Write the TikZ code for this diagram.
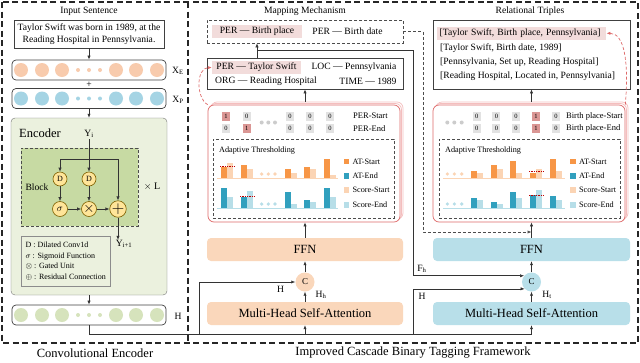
\documentclass[tikz,border=0pt]{standalone}
\usepackage{fontspec}
\setmainfont{Liberation Serif}
\usepackage{tikz}
\usetikzlibrary{arrows.meta, positioning, calc}
\definecolor{peachFill}{RGB}{248,203,173}
\definecolor{skyFill}{RGB}{165,212,228}
\definecolor{sageFill}{RGB}{214,227,188}
\definecolor{encFill}{RGB}{235,241,222}
\definecolor{blockFill}{RGB}{199,218,163}
\definecolor{gateFill}{RGB}{255,229,153}
\definecolor{gateDraw}{RGB}{127,96,0}
\definecolor{ffnPeach}{RGB}{250,215,187}
\definecolor{ffnBlue}{RGB}{184,223,233}
\definecolor{hiPink}{RGB}{242,220,219}
\definecolor{cellRed}{RGB}{218,150,148}
\definecolor{cellGray}{RGB}{226,226,226}
\definecolor{tagRed}{RGB}{222,105,105}
\definecolor{tagPink}{RGB}{244,190,190}
\definecolor{atStart}{RGB}{247,150,70}
\definecolor{scStart}{RGB}{251,212,180}
\definecolor{atEnd}{RGB}{49,160,190}
\definecolor{scEnd}{RGB}{183,222,232}
\newcommand{\barpair}[6]{%
    \fill[#5] (#1,#2) rectangle ++(6,-#3);
    \fill[#6] (#1+6,#2) rectangle ++(6,-#4);}
\tikzset{
    panel/.style={draw=black!85, line width=1.1pt, dash pattern=on 6pt off 3.5pt},
    subpanel/.style={
        rectangle,
        draw=black!70,
        line width=0.6pt,
        dash pattern=on 3pt off 2pt
    },
    plainbox/.style={rectangle, draw=black!75, line width=0.7pt, fill=white},
    embrow/.style={
        rectangle,
        draw=black!75,
        line width=0.7pt,
        rounded corners=4pt,
        fill=white,
        minimum width=154pt,
        minimum height=20pt
    },
    tok/.style={circle, inner sep=0pt, minimum size=14pt},
    dotnode/.style={circle, inner sep=0pt, minimum size=4pt},
    gate/.style={
        circle,
        draw=gateDraw,
        line width=0.6pt,
        fill=gateFill,
        inner sep=0pt,
        minimum size=14pt
    },
    layerbox/.style={
        rectangle,
        rounded corners=4pt,
        minimum width=196pt,
        minimum height=23pt,
        font=\fontsize{12.5}{14}\selectfont
    },
    cnode/.style={circle, inner sep=0pt, minimum size=19pt, font=\fontsize{9}{10}\selectfont},
    tagback/.style={
        rectangle,
        rounded corners=6pt,
        draw=tagPink,
        line width=0.7pt,
        fill=white,
        minimum width=192pt,
        minimum height=117pt
    },
    tagfront/.style={tagback, draw=tagRed},
    cell/.style={
        rectangle,
        fill=cellGray,
        inner sep=0pt,
        minimum width=8pt,
        minimum height=9pt,
        font=\fontsize{6.5}{7}\selectfont
    },
    hilite/.style={rectangle, fill=hiPink, inner sep=0pt, minimum height=12.5pt},
    legsq/.style={rectangle, inner sep=0pt, minimum size=5.5pt},
    leglab/.style={anchor=west, inner sep=0pt, font=\fontsize{8.2}{9}\selectfont},
    rowlab/.style={anchor=west, inner sep=0pt, font=\fontsize{8.5}{10}\selectfont},
    flowarrow/.style={-{Latex[length=4pt,width=3.2pt]}, draw=black!80, line width=0.6pt},
    linkline/.style={draw=black!80, line width=0.6pt},
    dashlink/.style={-{Latex[length=4pt,width=3.2pt]}, draw=black!70, line width=0.6pt, dash pattern=on 3pt off 2pt},
    redcurve/.style={-{Latex[length=4pt,width=3.2pt]}, draw=tagRed, line width=0.7pt, dash pattern=on 3pt off 2pt},
    thresh/.style={draw=red!75!black, line width=0.8pt, dash pattern=on 1pt off 0.7pt}
}

\begin{document}
\begin{tikzpicture}[x=1pt,y=-1pt,font=\fontsize{9.6}{11.5}\selectfont]
        \useasboundingbox (0,0) rectangle (640,362);
        \draw[panel] (2,2) rectangle (638,343);
        \draw[panel] (188,2) -- (188,343);

        % convolutional encoder
        \node (intitle) at (89,11) {Input Sentence};
        \node[plainbox, minimum width=150pt, minimum height=28pt, align=center, inner sep=0pt, font=\fontsize{9.6}{12.4}\selectfont] (sent) at (89,34) {Taylor Swift was born in 1989, at the\\Reading Hospital in Pennsylvania.};
        \node[embrow] (xe) at (89,70) {};
        \foreach \dx [count=\k] in {-68,-47,-27,27,47,68}
            \node[tok, fill=peachFill] (xe\k) at ($(xe)+(\dx,0)$) {};
        \foreach \dx [count=\k] in {-11,0,11}
            \node[dotnode, fill=peachFill] (xed\k) at ($(xe)+(\dx,0)$) {};
        \node (xelab) at (178,71) {X\textsubscript{E}};
        \node (plus) at (89,84.5) {+};
        \node[embrow] (xp) at (89,98.5) {};
        \foreach \dx [count=\k] in {-68,-47,-27,27,47,68}
            \node[tok, fill=skyFill] (xp\k) at ($(xp)+(\dx,0)$) {};
        \foreach \dx [count=\k] in {-11,0,11}
            \node[dotnode, fill=skyFill] (xpd\k) at ($(xp)+(\dx,0)$) {};
        \node (xplab) at (178,100) {X\textsubscript{P}};

        \node[rectangle, draw=black!55, fill=encFill, rounded corners=4pt, minimum width=156pt, minimum height=177pt] (enc) at (89,206.5) {};
        \node[anchor=west, inner sep=0pt, font=\fontsize{12.5}{14}\selectfont] (enclab) at (19,133) {Encoder};
        \node[subpanel, fill=blockFill, minimum width=117pt, minimum height=78pt] (blk) at (79.5,187) {};
        \node[inner sep=0pt] (blklab) at (37,187) {Block};
        \node[inner sep=0pt, font=\fontsize{10}{12}\selectfont] (reps) at (152,187) {$\times$ L};
        \node[inner sep=1pt] (yi) at (89,134) {Y\textsubscript{i}};
        \coordinate (ysplit) at (89,159);
        \node[gate, font=\fontsize{8}{9}\selectfont] (d1) at (60,179) {D};
        \node[gate, font=\fontsize{8}{9}\selectfont] (d2) at (89,179) {D};
        \node[gate, minimum size=15pt, font=\fontsize{10}{11}\selectfont] (sig) at (60,209) {$\sigma$};
        \node[gate, minimum size=15pt, font=\fontsize{15}{16}\selectfont] (gat) at (89,209) {$\times$};
        \node[gate, minimum size=16pt, font=\fontsize{16}{17}\selectfont] (res) at (118,209) {$+$};
        \draw[linkline] (yi) -- (ysplit);
        \draw[flowarrow] (ysplit) -- (d2);
        \draw[flowarrow] (ysplit) -| (d1);
        \draw[flowarrow] (ysplit) -| (res);
        \draw[flowarrow] (d1) -- (sig);
        \draw[flowarrow] (d2) -- (gat);
        \draw[flowarrow] (sig) -- (gat);
        \draw[flowarrow] (gat) -- (res);
        \node[inner sep=0pt] (yout) at (124,244) {Y\textsubscript{i+1}};
        \draw[flowarrow] (res) -- (res |- yout.north);
        \node[rectangle, draw=black!45, fill=encFill, anchor=north west, inner sep=3pt, minimum width=89pt, minimum height=50pt, align=left, font=\fontsize{8}{10.5}\selectfont] (encleg) at (21,236) {D : Dilated Conv1d\\$\sigma$ : Sigmoid Function\\$\otimes$ : Gated Unit\\$\oplus$ : Residual Connection};

        \node[embrow] (hrow) at (89,315) {};
        \foreach \dx [count=\k] in {-68,-47,-27,27,47,68}
            \node[tok, fill=sageFill] (h\k) at ($(hrow)+(\dx,0)$) {};
        \foreach \dx [count=\k] in {-11,0,11}
            \node[dotnode, fill=sageFill] (hd\k) at ($(hrow)+(\dx,0)$) {};
        \node (hlab) at (178,316) {H};
        \draw[flowarrow] (sent) -- (xe);
        \draw[flowarrow] (xp) -- (enc);
        \draw[flowarrow] (enc) -- (hrow);
        \node[font=\fontsize{12.5}{14}\selectfont] (capL) at (95,353) {Convolutional Encoder};
        \node[font=\fontsize{12.5}{14}\selectfont] (capR) at (413,353) {Improved Cascade Binary Tagging Framework};

        % mapping mechanism
        \node (maptitle) at (305,11) {Mapping Mechanism};
        \node[subpanel, minimum width=196pt, minimum height=23pt] (rel) at (305,31.5) {};
        \node[hilite, minimum width=90pt] (relA) at (257,31.5) {PER — Birth place};
        \node[inner sep=0pt] (relB) at (347.5,31.5) {PER — Birth date};
        \node[plainbox, minimum width=196pt, minimum height=31pt] (ent) at (305,73.5) {};
        \node[hilite, minimum width=89pt] (entA) at (256.5,67.5) {PER — Taylor Swift};
        \node[inner sep=0pt] (entB) at (354,67.5) {LOC — Pennsylvania};
        \node[inner sep=0pt] (entC) at (266,81) {ORG — Reading Hospital};
        \node[inner sep=0pt] (entD) at (368,81) {TIME — 1989};
        \coordinate (fhsplit) at (257,50);
        \coordinate (fhturn) at (413,50);
        \draw[flowarrow] (ent.north -| fhsplit) -- (rel.south -| fhsplit);

        \node[tagback] (tagL2) at (307,160.5) {};
        \node[tagback] (tagL1) at (305.5,162) {};
        \node[tagfront] (tagL) at (304,163.5) {};
        \draw[flowarrow] (tagL2.north -| ent.south) -- (ent.south);
        \draw[redcurve] (tagL.north west) .. controls (196,98) and (196,68) .. (entA.west);
        \foreach \xx/\c/\v [count=\k] in {226/cellRed/1, 246.7/cellGray/0, 290/cellGray/0, 310/cellGray/0, 330/cellGray/0}
            \node[cell, fill=\c] (psL\k) at (\xx,116) {\v};
        \foreach \xx/\c/\v [count=\k] in {226/cellGray/0, 246.7/cellRed/1, 290/cellGray/0, 310/cellGray/0, 330/cellGray/0}
            \node[cell, fill=\c] (peL\k) at (\xx,128.3) {\v};
        \foreach \xx [count=\k] in {261.7,268.3,275}
            \node[dotnode, fill=black!20] (pdL\k) at (\xx,122.5) {};
        \node[rowlab] (psLlab) at (353,116) {PER-Start};
        \node[rowlab] (peLlab) at (353,128.3) {PER-End};

        \node[subpanel, minimum width=181pt, minimum height=79pt] (atL) at (303.5,178.5) {};
        \node[anchor=west, inner sep=0pt, font=\fontsize{8.2}{10}\selectfont] (atLtitle) at (219,151) {Adaptive Thresholding};
        \draw[scStart, line width=0.8pt] (217,178.3) -- (338,178.3);
        \draw[scEnd, line width=0.8pt] (217,208.3) -- (338,208.3);
        \barpair{221}{178.3}{11.7}{15.7}{atStart}{scStart}
        \barpair{241}{178.3}{13}{9}{atStart}{scStart}
        \barpair{285}{178.3}{9}{5.7}{atStart}{scStart}
        \barpair{304.3}{178.3}{11}{9}{atStart}{scStart}
        \barpair{324}{178.3}{19}{3}{atStart}{scStart}
        \barpair{221}{208.3}{20}{11.7}{atEnd}{scEnd}
        \barpair{241}{208.3}{11.7}{17.7}{atEnd}{scEnd}
        \barpair{285}{208.3}{16}{4.3}{atEnd}{scEnd}
        \barpair{304.3}{208.3}{8.3}{6}{atEnd}{scEnd}
        \barpair{324}{208.3}{20}{11.7}{atEnd}{scEnd}
        \draw[thresh] (220,166.7) -- (234,166.7);
        \draw[thresh] (240,196) -- (254,196);
        \foreach \xx in {261.7,268.3,275} {
            \fill[scStart] (\xx,174) circle (1.8);
            \fill[scEnd] (\xx,204) circle (1.8);
        }
        \foreach \c/\t/\yy [count=\k] in {atStart/AT-Start/161.7, atEnd/AT-End/176, scStart/Score-Start/190, scEnd/Score-End/205} {
            \node[legsq, fill=\c] (legL\k) at (346.5,\yy) {};
            \node[leglab, right=3pt of legL\k] (legLt\k) {\t};
        }

        \node[layerbox, fill=ffnPeach] (ffnL) at (305,249.5) {FFN};
        \node[cnode, fill=ffnPeach] (cL) at (305,282) {C};
        \node[layerbox, fill=ffnPeach] (mhsaL) at (305,313.5) {Multi-Head Self-Attention};
        \draw[flowarrow] (ffnL.north) -- (ffnL.north |- tagL.south);
        \draw[flowarrow] (cL) -- (ffnL);
        \draw[flowarrow] (mhsaL) -- (cL);
        \node[inner sep=0pt] (hLlab) at (280.5,289) {H};
        \node[inner sep=0pt] (hhlab) at (321,295) {H\textsubscript{h}};

        % relational triples
        \node (triptitle) at (530,11) {Relational Triples};
        \node[plainbox, minimum width=197pt, minimum height=69pt] (trip) at (531.5,54.5) {};
        \node[hilite, anchor=west, text width=164pt, inner xsep=2.5pt, align=left] (tripA) at (437,33.3) {[Taylor Swift, Birth place, Pennsylvania]};
        \node[anchor=west, inner sep=0pt] (tripB) at (440,47.7) {[Taylor Swift, Birth date, 1989]};
        \node[anchor=west, inner sep=0pt] (tripC) at (440,62.3) {[Pennsylvania, Set up, Reading Hospital]};
        \node[anchor=west, inner sep=0pt] (tripD) at (440,76.7) {[Reading Hospital, Located in, Pennsylvania]};

        \node[tagback] (tagR2) at (532,160.5) {};
        \node[tagback] (tagR1) at (530.5,162) {};
        \node[tagfront] (tagR) at (529,163.5) {};
        \draw[flowarrow] (tagR2.north -| trip.south) -- (trip.south);
        \draw[redcurve] (tagR.north east) .. controls (629,60) and (624,33.3) .. (tripA.east);
        \foreach \xx/\c/\v [count=\k] in {476.7/cellGray/0, 496.4/cellGray/0, 516/cellGray/0, 536/cellRed/1, 556/cellGray/0} {
            \node[cell, fill=\c] (bsR\k) at (\xx,116) {\v};
            \node[cell, fill=\c] (beR\k) at (\xx,128.3) {\v};
        }
        \foreach \xx [count=\k] in {447.3,454.3,461.7}
            \node[dotnode, fill=black!20] (pdR\k) at (\xx,122.5) {};
        \node[rowlab] (bsRlab) at (566,116) {Birth place-Start};
        \node[rowlab] (beRlab) at (566,128.3) {Birth place-End};

        \node[subpanel, minimum width=181pt, minimum height=79pt] (atR) at (529.5,178.5) {};
        \node[anchor=west, inner sep=0pt, font=\fontsize{8.2}{10}\selectfont] (atRtitle) at (445,151) {Adaptive Thresholding};
        \draw[scStart, line width=0.8pt] (443,178.3) -- (565,178.3);
        \draw[scEnd, line width=0.8pt] (443,208.3) -- (565,208.3);
        \barpair{471}{178.3}{7.7}{5}{atStart}{scStart}
        \barpair{491}{178.3}{13.3}{9.3}{atStart}{scStart}
        \barpair{510}{178.3}{17.7}{5.7}{atStart}{scStart}
        \barpair{530}{178.3}{5.7}{9.3}{atStart}{scStart}
        \barpair{550}{178.3}{19.3}{7.7}{atStart}{scStart}
        \barpair{471}{208.3}{10.7}{8.3}{atEnd}{scEnd}
        \barpair{491}{208.3}{6}{4}{atEnd}{scEnd}
        \barpair{510}{208.3}{16}{10.7}{atEnd}{scEnd}
        \barpair{530}{208.3}{13.3}{18.3}{atEnd}{scEnd}
        \barpair{550}{208.3}{12.3}{8.3}{atEnd}{scEnd}
        \draw[thresh] (529,171.7) -- (543,171.7);
        \draw[thresh] (529,195) -- (543,195);
        \foreach \xx in {447.3,454.3,461.7} {
            \fill[scStart] (\xx,174) circle (1.8);
            \fill[scEnd] (\xx,204) circle (1.8);
        }
        \foreach \c/\t/\yy [count=\k] in {atStart/AT-Start/161.7, atEnd/AT-End/176, scStart/Score-Start/190, scEnd/Score-End/205} {
            \node[legsq, fill=\c] (legR\k) at (573,\yy) {};
            \node[leglab, right=3pt of legR\k] (legRt\k) {\t};
        }

        \node[layerbox, fill=ffnBlue, minimum width=197pt] (ffnR) at (531.5,249.5) {FFN};
        \node[cnode, fill=ffnBlue] (cR) at (531.5,282) {C};
        \node[layerbox, fill=ffnBlue, minimum width=197pt] (mhsaR) at (531.5,313.5) {Multi-Head Self-Attention};
        \draw[flowarrow] (ffnR.north) -- (ffnR.north |- tagR.south);
        \draw[flowarrow] (cR) -- (ffnR);
        \draw[flowarrow] (mhsaR) -- (cR);
        \node[inner sep=0pt] (fhlab) at (422,269) {F\textsubscript{h}};
        \node[inner sep=0pt] (hRlab) at (422,296) {H};
        \node[inner sep=0pt] (htlab) at (547,295) {H\textsubscript{t}};

        % connectors between the panels
        \coordinate (bus) at (0,334);
        \coordinate (hturnL) at (199,0);
        \coordinate (hturnR) at (413,0);
        \coordinate (dturn) at (423,232);
        \draw[flowarrow] (hrow.south) |- (mhsaR.south |- bus) -- (mhsaR.south);
        \draw[flowarrow] (mhsaL.south |- bus) -- (mhsaL.south);
        \draw[flowarrow] (hturnL |- bus) |- (cL.west);
        \draw[flowarrow] (hturnR |- bus) |- (cR.225);
        \draw[flowarrow] (fhsplit) -- (fhturn) |- (cR.140);
        \draw[dashlink] (rel.east) -| (dturn) -- (ffnR.north |- dturn);
    \end{tikzpicture}
\end{document}
